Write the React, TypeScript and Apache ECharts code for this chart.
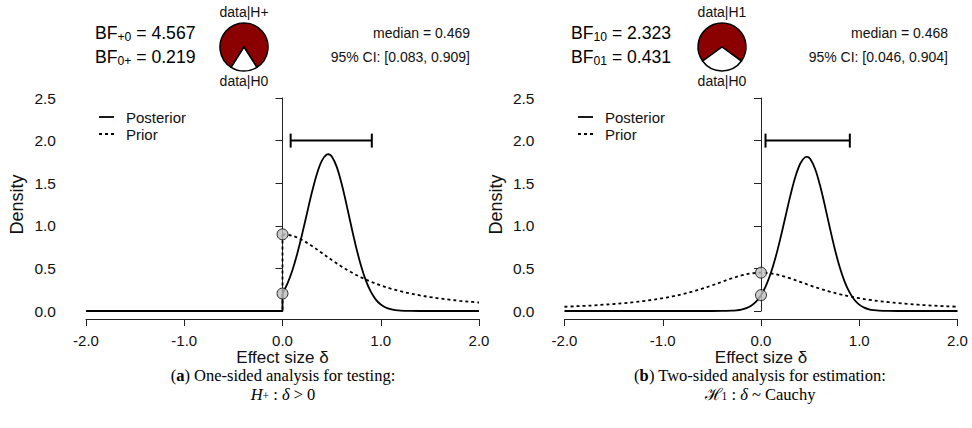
import React, { useEffect, useRef } from "react";
import * as echarts from "echarts";

// ---------- data ----------
const xTickValues = [-2, -1, 0, 1, 2];
const yTickValues = [0, 0.5, 1, 1.5, 2, 2.5];

// Panel (a): one-sided
const oneSidedPostX = [0, 0.05, 0.1, 0.15, 0.2, 0.25, 0.3, 0.35, 0.4, 0.45, 0.47, 0.5, 0.55, 0.6, 0.65, 0.7, 0.75, 0.8, 0.85, 0.9, 0.95, 1.0, 1.05, 1.1, 1.15, 1.2, 1.3, 1.4, 1.6, 2.0];
const oneSidedPostY = [0.205, 0.321, 0.476, 0.672, 0.902, 1.151, 1.396, 1.609, 1.763, 1.836, 1.84, 1.815, 1.698, 1.502, 1.257, 0.995, 0.746, 0.528, 0.354, 0.224, 0.134, 0.076, 0.041, 0.021, 0.01, 0.0045, 0.0008, 0.0001, 0, 0];
const oneSidedPriorX = [0, 0.1, 0.2, 0.3, 0.4, 0.5, 0.6, 0.7, 0.8, 0.9, 1.0, 1.1, 1.2, 1.3, 1.4, 1.5, 1.6, 1.7, 1.8, 1.9, 2.0];
const oneSidedPriorY = [0.9, 0.883, 0.834, 0.763, 0.682, 0.6, 0.523, 0.455, 0.395, 0.344, 0.3, 0.263, 0.232, 0.206, 0.183, 0.164, 0.147, 0.133, 0.12, 0.11, 0.1];
const oneSidedPoints = [[0, 0.9], [0, 0.205]];
const oneSidedCI = [0.083, 0.909];
const oneSidedMedian = 0.469;
const bfPlus0 = 4.567;
const bf0Plus = 0.219;

// Panel (b): two-sided
const twoSidedPostX = [-2.0, -0.6, -0.4, -0.3, -0.25, -0.2, -0.15, -0.1, -0.05, 0, 0.05, 0.1, 0.15, 0.2, 0.25, 0.3, 0.35, 0.4, 0.45, 0.47, 0.5, 0.55, 0.6, 0.65, 0.7, 0.75, 0.8, 0.85, 0.9, 0.95, 1.0, 1.05, 1.1, 1.15, 1.2, 1.3, 1.4, 1.6, 2.0];
const twoSidedPostY = [0, 0, 0.0007, 0.0038, 0.0084, 0.0172, 0.0338, 0.063, 0.111, 0.186, 0.296, 0.446, 0.637, 0.865, 1.113, 1.36, 1.575, 1.731, 1.806, 1.81, 1.786, 1.67, 1.478, 1.237, 0.979, 0.733, 0.519, 0.348, 0.221, 0.132, 0.075, 0.04, 0.02, 0.01, 0.0045, 0.0008, 0.0001, 0, 0];
const twoSidedPriorX = [-2.0, -1.9, -1.8, -1.7, -1.6, -1.5, -1.4, -1.3, -1.2, -1.1, -1.0, -0.9, -0.8, -0.7, -0.6, -0.5, -0.4, -0.3, -0.2, -0.1, 0, 0.1, 0.2, 0.3, 0.4, 0.5, 0.6, 0.7, 0.8, 0.9, 1.0, 1.1, 1.2, 1.3, 1.4, 1.5, 1.6, 1.7, 1.8, 1.9, 2.0];
const twoSidedPriorY = [0.05, 0.055, 0.06, 0.066, 0.074, 0.082, 0.092, 0.103, 0.116, 0.132, 0.15, 0.172, 0.197, 0.227, 0.262, 0.3, 0.341, 0.382, 0.417, 0.441, 0.45, 0.441, 0.417, 0.382, 0.341, 0.3, 0.262, 0.227, 0.197, 0.172, 0.15, 0.132, 0.116, 0.103, 0.092, 0.082, 0.074, 0.066, 0.06, 0.055, 0.05];
const twoSidedPoints = [[0, 0.45], [0, 0.186]];
const twoSidedCI = [0.046, 0.904];
const twoSidedMedian = 0.468;
const bf10 = 2.323;
const bf01 = 0.431;

const ciLevel = 2.0;

// ---------- styling ----------
const SANS = "'Liberation Sans', Arial, Helvetica, sans-serif";
const SERIF = "'Liberation Serif', 'DejaVu Serif', serif";
const INK = "#111";
const POINT_FILL = "#bebebe";
const PIE_RED = "#8b0000";

function pairs(xs: number[], ys: number[]) {
  return xs.map((x, i) => [x, ys[i]]);
}

export default function App() {
  const ref = useRef<HTMLDivElement>(null);

  useEffect(() => {
    if (!ref.current) return;
    const chart = echarts.init(ref.current, null, { renderer: "svg" });

    const grids = [
      { left: 86, top: 98, width: 393, height: 213 },
      { left: 564.5, top: 98, width: 393, height: 213 },
    ];

    const xAxisBase = (gi: number) => ({
      type: "value",
      gridIndex: gi,
      min: -2,
      max: 2,
      interval: 1,
      offset: 8,
      name: "Effect size δ",
      nameLocation: "middle",
      nameGap: 25,
      nameTextStyle: { fontFamily: SANS, fontSize: 17, lineHeight: 17, color: INK },
      axisLine: { show: true, onZero: false, lineStyle: { color: "#222", width: 1 } },
      axisTick: { show: true, length: 7, lineStyle: { color: "#222", width: 1 } },
      axisLabel: {
        margin: 14,
        fontFamily: SANS,
        fontSize: 15,
        color: INK,
        formatter: (v: number) => v.toFixed(1),
      },
      splitLine: { show: false },
    });

    const yAxisBase = (gi: number) => ({
      type: "value",
      gridIndex: gi,
      min: 0,
      max: 2.5,
      interval: 0.5,
      offset: 16,
      name: "Density",
      nameLocation: "middle",
      nameGap: 44,
      nameRotate: 90,
      nameTextStyle: { fontFamily: SANS, fontSize: 18, color: INK },
      axisLine: { show: true, lineStyle: { color: "#222", width: 1 } },
      axisTick: { show: true, length: 7, lineStyle: { color: "#222", width: 1 } },
      axisLabel: {
        margin: 14,
        fontFamily: SANS,
        fontSize: 15.5,
        color: INK,
        formatter: (v: number) => v.toFixed(1),
      },
      splitLine: { show: false },
    });

    const lineSeries = (gi: number, data: number[][], dotted: boolean, smooth: boolean) => ({
      type: "line",
      xAxisIndex: gi,
      yAxisIndex: gi,
      data,
      smooth: smooth ? 0.35 : false,
      showSymbol: false,
      symbol: "none",
      silent: true,
      lineStyle: { color: "#000", width: 1.8, type: dotted ? [3, 3] : "solid" },
      z: 2,
    });

    const pointSeries = (gi: number, data: number[][]) => ({
      type: "scatter",
      xAxisIndex: gi,
      yAxisIndex: gi,
      data,
      symbol: "circle",
      symbolSize: 11,
      silent: true,
      itemStyle: { color: POINT_FILL, borderColor: "#000", borderWidth: 1 },
      z: 5,
    });

    const ciSeries = (gi: number, ci: number[]) => ({
      type: "custom",
      xAxisIndex: gi,
      yAxisIndex: gi,
      silent: true,
      data: [[ci[0], ci[1], ciLevel]],
      encode: { x: [0, 1], y: 2 },
      renderItem: (params: any, api: any) => {
        const a = api.coord([api.value(0), api.value(2)]);
        const b = api.coord([api.value(1), api.value(2)]);
        const cap = 7;
        const st = { stroke: "#000", lineWidth: 2 };
        return {
          type: "group",
          children: [
            { type: "line", shape: { x1: a[0], y1: a[1], x2: b[0], y2: b[1] }, style: st },
            { type: "line", shape: { x1: a[0], y1: a[1] - cap, x2: a[0], y2: a[1] + cap }, style: st },
            { type: "line", shape: { x1: b[0], y1: b[1] - cap, x2: b[0], y2: b[1] + cap }, style: st },
          ],
        };
      },
      z: 4,
    });

    // Red slice (data|H1) first, centred on the top; white slice (data|H0) then ends centred on the bottom.
    const pieSeries = (cx: number, bf: number) => {
      const pH0 = 1 / (1 + bf);
      const pH1 = bf / (1 + bf);
      return {
        type: "pie",
        center: [cx, 47],
        radius: 24,
        silent: true,
        clockwise: true,
        startAngle: 90 + pH1 * 180,
        label: { show: false },
        labelLine: { show: false },
        itemStyle: { borderColor: "#000", borderWidth: 1.5 },
        data: [
          { value: pH1, name: "data|H1", itemStyle: { color: PIE_RED } },
          { value: pH0, name: "data|H0", itemStyle: { color: "#ffffff" } },
        ],
      };
    };

    const bfRich = {
      m: { fontFamily: SANS, fontSize: 17.6, color: INK, lineHeight: 21, verticalAlign: "middle" },
      s: { fontFamily: SANS, fontSize: 12.2, color: INK, lineHeight: 12, verticalAlign: "bottom" },
    };

    const headerTexts = (bfX: number, pieX: number, rightX: number, sub1: string, bf1: number, sub2: string, bf2: number, top: string, median: number, ci: number[]) => [
      { type: "text", left: bfX, top: 23.5, style: { text: `{m|BF}{s|${sub1}}{m| = ${bf1.toFixed(3)}}`, rich: bfRich } },
      { type: "text", left: bfX, top: 47.5, style: { text: `{m|BF}{s|${sub2}}{m| = ${bf2.toFixed(3)}}`, rich: bfRich } },
      { type: "text", x: pieX, y: 12, style: { text: top, fontFamily: SANS, fontSize: 14, fill: INK, align: "center", verticalAlign: "middle" } },
      { type: "text", x: pieX, y: 81, style: { text: "data|H0", fontFamily: SANS, fontSize: 14, fill: INK, align: "center", verticalAlign: "middle" } },
      { type: "text", x: rightX, y: 33, style: { text: `median = ${median.toFixed(3)}`, fontFamily: SANS, fontSize: 14, fill: INK, align: "right", verticalAlign: "middle" } },
      { type: "text", x: rightX, y: 57, style: { text: `95% CI: [${ci[0].toFixed(3)}, ${ci[1].toFixed(3)}]`, fontFamily: SANS, fontSize: 14, fill: INK, align: "right", verticalAlign: "middle" } },
    ];

    const legendGraphics = (x0: number) => [
      { type: "line", shape: { x1: x0, y1: 117, x2: x0 + 15, y2: 117 }, style: { stroke: "#000", lineWidth: 1.8 } },
      { type: "line", shape: { x1: x0, y1: 134, x2: x0 + 15, y2: 134 }, style: { stroke: "#000", lineWidth: 1.8, lineDash: [3, 3] } },
      { type: "text", x: x0 + 27, y: 117, style: { text: "Posterior", fontFamily: SANS, fontSize: 15, fill: INK, verticalAlign: "middle" } },
      { type: "text", x: x0 + 27, y: 134, style: { text: "Prior", fontFamily: SANS, fontSize: 15, fill: INK, verticalAlign: "middle" } },
    ];

    const capRich = {
      n: { fontFamily: SERIF, fontSize: 16.5, lineHeight: 16.5, color: "#000" },
      b: { fontFamily: SERIF, fontSize: 16.5, lineHeight: 16.5, color: "#000", fontWeight: "bold" },
      i: { fontFamily: SERIF, fontSize: 16.5, lineHeight: 16.5, color: "#000", fontStyle: "italic" },
      s: { fontFamily: SERIF, fontSize: 11.5, lineHeight: 11.5, color: "#000", verticalAlign: "bottom" },
    };

    const captions = [
      { type: "text", x: 283, y: 375.5, style: { text: "{n|(}{b|a}{n|) One-sided analysis for testing:}", rich: capRich, align: "center", verticalAlign: "middle" } },
      { type: "text", x: 283, y: 394, style: { text: "{i|H}{s|+}{n| : }{i|δ}{n| > 0}", rich: capRich, align: "center", verticalAlign: "middle" } },
      { type: "text", x: 760, y: 375.5, style: { text: "{n|(}{b|b}{n|) Two-sided analysis for estimation:}", rich: capRich, align: "center", verticalAlign: "middle" } },
      { type: "text", x: 760, y: 394, style: { text: "{n|ℋ}{s|1}{n| : }{i|δ}{n| ~ Cauchy}", rich: capRich, align: "center", verticalAlign: "middle" } },
    ];

    const option = {
      animation: false,
      backgroundColor: "#ffffff",
      grid: grids,
      xAxis: [xAxisBase(0), xAxisBase(1)],
      yAxis: [yAxisBase(0), yAxisBase(1)],
      series: [
        // panel a
        lineSeries(0, [[-2, 0], [0, 0], [0, oneSidedPostY[0]]], false, false),
        lineSeries(0, pairs(oneSidedPostX, oneSidedPostY), false, true),
        lineSeries(0, [[-2, 0], [0, 0], [0, oneSidedPriorY[0]]], true, false),
        lineSeries(0, pairs(oneSidedPriorX, oneSidedPriorY), true, true),
        pointSeries(0, oneSidedPoints),
        ciSeries(0, oneSidedCI),
        // panel b
        lineSeries(1, pairs(twoSidedPostX, twoSidedPostY), false, true),
        lineSeries(1, pairs(twoSidedPriorX, twoSidedPriorY), true, true),
        pointSeries(1, twoSidedPoints),
        ciSeries(1, twoSidedCI),
        // pies
        pieSeries(244, bfPlus0),
        pieSeries(722, bf10),
      ],
      graphic: [
        ...headerTexts(95, 244, 470, "+0", bfPlus0, "0+", bf0Plus, "data|H+", oneSidedMedian, oneSidedCI),
        ...headerTexts(571, 722, 948, "10", bf10, "01", bf01, "data|H1", twoSidedMedian, twoSidedCI),
        ...legendGraphics(99),
        ...legendGraphics(578),
        ...captions,
      ],
    };

    chart.setOption(option as any);
    return () => chart.dispose();
  }, []);

  return (
    <div
      ref={ref}
      style={{ position: "absolute", left: 0, top: 0, width: 972, height: 428, background: "#fff" }}
    />
  );
}
